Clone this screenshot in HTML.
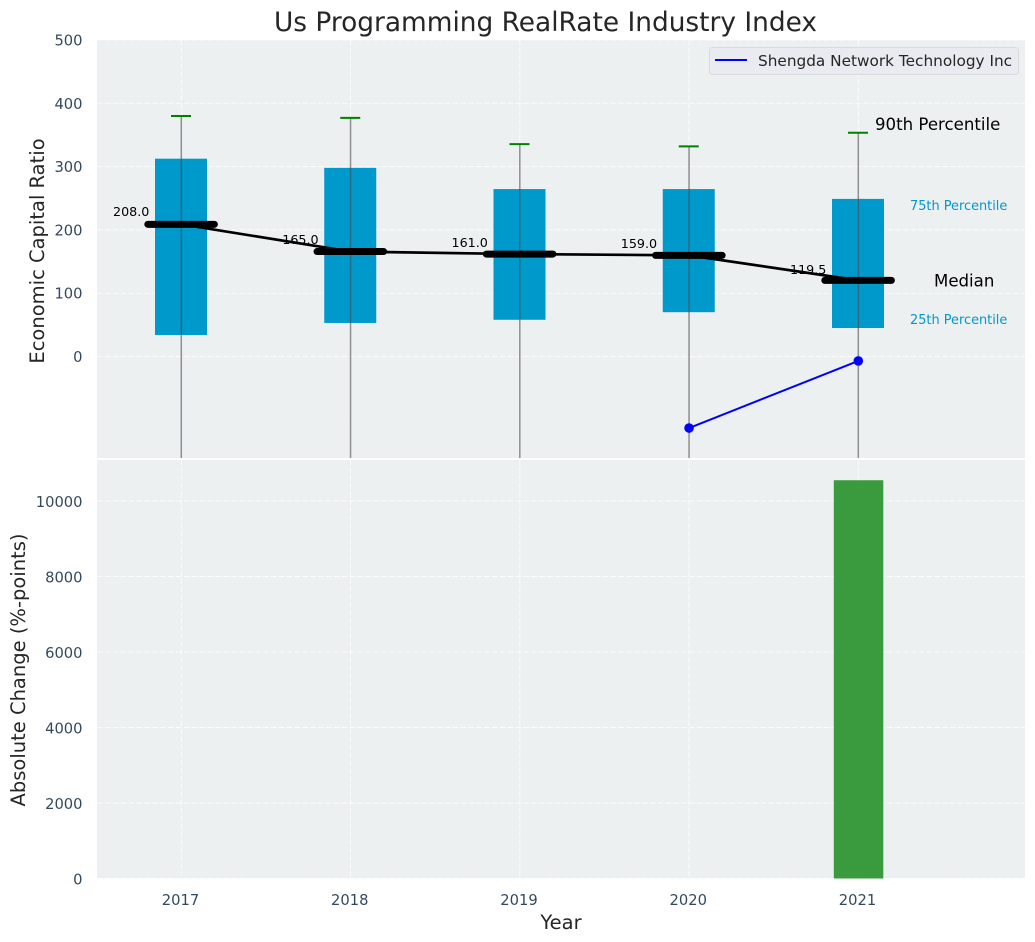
<!DOCTYPE html>
<html>
<head>
<meta charset="utf-8">
<title>Us Programming RealRate Industry Index</title>
<style>
html,body{margin:0;padding:0;background:#fff;}
svg{display:block;font-family:"DejaVu Sans","Liberation Sans",sans-serif;}
</style>
</head>
<body>
<svg id="chart" xmlns="http://www.w3.org/2000/svg" width="1035" height="942" viewBox="0 0 1035 942">
  <defs>
    <clipPath id="clip-top"><rect x="97" y="40" width="928" height="418"/></clipPath>
    <clipPath id="clip-bottom"><rect x="97" y="460" width="928" height="418.5"/></clipPath>
  </defs>
  <rect x="97" y="40" width="928" height="418" fill="#ecf0f1"/>
  <rect x="97" y="460" width="928" height="418.5" fill="#ecf0f1"/>
  <g id="grid-layer"></g>
  <g id="top-layer" clip-path="url(#clip-top)"></g>
  <g id="bottom-layer" clip-path="url(#clip-bottom)"></g>
  <g id="tick-layer"></g>

  <text x="545.5" y="31" text-anchor="middle" font-size="26.4" fill="#262626">Us Programming RealRate Industry Index</text>
  <text transform="translate(44,251) rotate(-90)" text-anchor="middle" font-size="19.5" fill="#262626">Economic Capital Ratio</text>
  <text transform="translate(25,670) rotate(-90)" text-anchor="middle" font-size="19.5" fill="#262626">Absolute Change (%-points)</text>
  <text x="561" y="929" text-anchor="middle" font-size="19.5" fill="#262626">Year</text>

  <g>
    <rect x="709.5" y="47.5" width="309" height="27" rx="3" fill="#eaebf1" stroke="#d8dadd" stroke-width="1"/>
    <line x1="715" y1="60" x2="747" y2="60" stroke="#0000ff" stroke-width="2"/>
    <text x="758" y="66" font-size="15.3" fill="#262626">Shengda Network Technology Inc</text>
  </g>

  <text x="875" y="130" font-size="16.6" fill="#000">90th Percentile</text>
  <text x="910" y="210" font-size="12.9" fill="#0099cc">75th Percentile</text>
  <text x="934" y="286.5" font-size="16.6" fill="#000">Median</text>
  <text x="910" y="324" font-size="12.9" fill="#0099cc">25th Percentile</text>
</svg>
<script>
// Chart data
const years = [2017, 2018, 2019, 2020, 2021];
const p90 = [380, 377, 335.5, 332, 353.5];
const p75 = [312.5, 298, 264.5, 264.5, 249];
const medians = [208, 165, 161, 159, 119.5];
const p25 = [34, 53, 58, 70, 45];
const p10 = [-250, -250, -250, -250, -250];
const companySeries = [null, null, null, -113, -7];
const absoluteChange = [null, null, null, null, 10550];
const topTicks = [0, 100, 200, 300, 400, 500];
const bottomTicks = [0, 2000, 4000, 6000, 8000, 10000];

// Axis functions
function xScale(v) { return 181.3 + (v - 2017) * 169.25; }
function yTop(v) { return 356.5 - v * 0.633; }
function yBottom(v) { return 878.5 - v * 0.03775; }
const SVG_NS = 'http://www.w3.org/2000/svg';
function make(tag, parent, props, text) {
  const el = document.createElementNS(SVG_NS, tag);
  for (const k in props) el.setAttribute(k, props[k]);
  if (text !== undefined) el.textContent = text;
  parent.appendChild(el);
  return el;
}
const gridLayer = document.getElementById('grid-layer');
const topLayer = document.getElementById('top-layer');
const bottomLayer = document.getElementById('bottom-layer');
const tickLayer = document.getElementById('tick-layer');
const gridStyle = { stroke: '#ffffff', 'stroke-width': 1, 'stroke-dasharray': '5.5 2.4', 'stroke-opacity': 0.8 };
const tickColor = '#34495e';
const tickFont = 14.7;

// Horizontal grid and y ticks
topTicks.forEach(function (t) {
  const y = yTop(t);
  const g = make('line', gridLayer, Object.assign({ x1: 97, x2: 1025, y1: y, y2: y }, gridStyle));
  
  
  const l = make('text', tickLayer, { x: 82.5, y: y + 5.5, 'text-anchor': 'end', 'font-size': tickFont, fill: tickColor }, String(t));
  
  
});
bottomTicks.forEach(function (t) {
  const y = yBottom(t);
  const g = make('line', gridLayer, Object.assign({ x1: 97, x2: 1025, y1: y, y2: y }, gridStyle));
  
  
  const l = make('text', tickLayer, { x: 82.5, y: y + 6, 'text-anchor': 'end', 'font-size': tickFont, fill: tickColor }, String(t));
  
  
});

// Vertical grid and x ticks
years.forEach(function (yr) {
  const x = xScale(yr);
  const g1 = make('line', gridLayer, Object.assign({ x1: x, x2: x, y1: 40, y2: 458 }, gridStyle));
  
  
  const g2 = make('line', gridLayer, Object.assign({ x1: x, x2: x, y1: 460, y2: 878.5 }, gridStyle));
  
  
  const l = make('text', tickLayer, { x: x - 0.8, y: 905, 'text-anchor': 'middle', 'font-size': tickFont, fill: tickColor }, String(yr));
  
  
});

// Boxes, whiskers and caps
years.forEach(function (yr, i) {
  const x = xScale(yr);
  const box = make('rect', topLayer, { x: x - 26.3, y: yTop(p75[i]), width: 52, height: yTop(p25[i]) - yTop(p75[i]), fill: '#0099cc' });
  
  
  const whisker = make('line', topLayer, { x1: x, x2: x, y1: yTop(p90[i]), y2: yTop(p10[i]), stroke: '#4d4d4d', 'stroke-opacity': 0.6, 'stroke-width': 1.5 });
  
  
  const cap = make('line', topLayer, { x1: x - 10.3, x2: x + 9.7, y1: yTop(p90[i]), y2: yTop(p90[i]), stroke: '#008000', 'stroke-width': 2 });
  
  
});

// Median trend line
const medianTrend = make('polyline', topLayer, {
  points: years.map(function (yr, i) { return xScale(yr) + ',' + (yTop(medians[i]) - 0.5); }).join(' '),
  fill: 'none', stroke: '#000000', 'stroke-width': 2.7
});



// Median bars and labels
years.forEach(function (yr, i) {
  const x = xScale(yr);
  const y = yTop(medians[i]) - 0.5;
  const bar = make('line', topLayer, { x1: x - 33.5, x2: x + 33.1, y1: y, y2: y, stroke: '#000000', 'stroke-width': 7, 'stroke-linecap': 'round' });
  
  
  const label = make('text', topLayer, { x: x - 68.3, y: yTop(medians[i] * 1.043 + 5.3), 'font-size': 12.7, fill: '#000000' }, medians[i].toFixed(1));
  
  
});

// Company series
const companyPts = [];
years.forEach(function (yr, i) {
  if (companySeries[i] !== null) companyPts.push([xScale(yr), yTop(companySeries[i])]);
});
const companyLine = make('polyline', topLayer, {
  points: companyPts.map(function (p) { return p.join(','); }).join(' '),
  fill: 'none', stroke: '#0000ff', 'stroke-width': 2
});


companyPts.forEach(function (p) {
  const dot = make('circle', topLayer, { cx: p[0], cy: p[1], r: 4.8, fill: '#0000ff' });
  
  
});

// Absolute change bars
years.forEach(function (yr, i) {
  if (absoluteChange[i] === null) return;
  const x = xScale(yr);
  const bar = make('rect', bottomLayer, { x: x - 24.5, y: yBottom(absoluteChange[i]), width: 49.5, height: yBottom(0) - yBottom(absoluteChange[i]), fill: '#3a9a3e' });
  
  
});
</script>
</body>
</html>
